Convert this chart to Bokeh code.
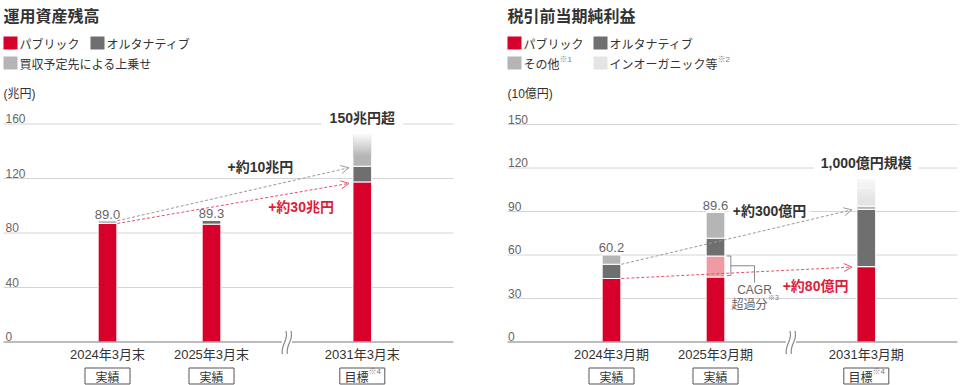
from bokeh.plotting import figure
from bokeh.layouts import row
from bokeh.models import Range1d, Arrow, OpenHead, ColumnDataSource
from bokeh.core.properties import value
from bokeh.embed import file_html
from bokeh.resources import INLINE

# ---------------- data ----------------
aum_title = "運用資産残高"
aum_unit = "(兆円)"
aum_periods = ["2024年3月末", "2025年3月末", "2031年3月末"]
aum_status = ["実績", "実績", "目標"]
aum_public = [87.0, 86.5, 117.5]
aum_alternative = [0.0, 2.8, 11.5]
aum_acquisition = [2.0, 0.0, 25.0]
aum_value_labels = ["89.0", "89.3"]
aum_target_label = "150兆円超"
aum_ticks = [0, 40, 80, 120, 160]
aum_delta_total = "+約10兆円"
aum_delta_public = "+約30兆円"
aum_legend = ["パブリック", "オルタナティブ", "買収予定先による上乗せ"]

pl_title = "税引前当期純利益"
pl_unit = "(10億円)"
pl_periods = ["2024年3月期", "2025年3月期", "2031年3月期"]
pl_status = ["実績", "実績", "目標"]
pl_public = [43.8, 44.8, 52.0]
pl_cagr_excess = [0.0, 14.5, 0.0]
pl_alternative = [9.8, 12.3, 39.5]
pl_other = [6.6, 18.0, 2.2]
pl_inorganic = [0.0, 0.0, 20.0]
pl_value_labels = ["60.2", "89.6"]
pl_target_label = "1,000億円規模"
pl_ticks = [0, 30, 60, 90, 120, 150]
pl_delta_total = "+約300億円"
pl_delta_public = "+約80億円"
pl_legend = ["パブリック", "オルタナティブ", "その他", "インオーガニック等"]
pl_cagr_text = ["CAGR", "超過分"]

# ---------------- styles / layout ----------------
RED = "#d7002b"
DARK = "#6f6f6f"
LIGHT = "#b5b5b5"
VLIGHT = "#e4e4e4"
PINK = "#f09ba4"
TXT = "#333333"
SUB = "#666666"
GRID = "#d4d4d4"
AXIS = "#7a7a7a"
RED_TXT = "#dc1e3c"
RED_ARW = "#e8506a"
GRAY_ARW = "#9a9a9a"
SUPC = "#7a7a7a"
CJK = "Noto Sans CJK JP"
MIX = "Liberation Sans, Noto Sans CJK JP"

FIG_W, FIG_H = 480, 385
TOP = 0
AXIS_Y = 341.5
SLOT = 104.0
BREAK = 0.45
BAR_W = 0.18
xpos = [0.0, 1.0, 2.0 + BREAK]


class Geo:
    def __init__(self, left, bar0, ppu):
        self.left, self.bar0, self.ppu = left, bar0, ppu

    def X(self, px):
        return (px - self.bar0) / SLOT

    def Y(self, py):
        return (AXIS_Y - py) / self.ppu

    def dx(self, n):
        return n / SLOT

    def dy(self, n):
        return n / self.ppu


def make_fig(g):
    p = figure(width=FIG_W, height=FIG_H,
               x_range=Range1d(g.X(g.left), g.X(g.left + FIG_W)),
               y_range=Range1d(g.Y(TOP + FIG_H), g.Y(TOP)),
               output_backend="svg", toolbar_location=None,
               x_axis_location=None, y_axis_location=None,
               min_border=0, title=None, outline_line_color=None,
               background_fill_color="white", border_fill_color="white")
    p.grid.visible = False
    return p


def txt(p, x, y, s, size, color=TXT, font=MIX, bold=False, align="left",
        baseline="middle", **kw):
    p.text(x=[x], y=[y], text=[s], text_font=value(font),
           text_font_size=f"{size}px", text_color=color, text_align=align,
           text_baseline=baseline,
           text_font_style="bold" if bold else "normal", **kw)


def mix_white(c, t):
    c = c.lstrip("#")
    r, gg, b = (int(c[i:i + 2], 16) for i in (0, 2, 4))
    f = lambda v: int(round(v + (255 - v) * t))
    return "#%02x%02x%02x" % (f(r), f(gg), f(b))


def fade(p, g, x, bottom, top, base, start_frac):
    n = 24
    s = bottom + (top - bottom) * start_frac
    step = (top - s) / n
    lefts, rights, bots, tops, cols = [], [], [], [], []
    for i in range(n):
        lefts.append(x - BAR_W / 2 + g.dx(0.5))
        rights.append(x + BAR_W / 2 - g.dx(0.5))
        bots.append(s + i * step)
        tops.append(s + (i + 1) * step + (0 if i == n - 1 else step * 0.05))
        cols.append(mix_white(base, (i + 1) / n))
    p.quad(left=lefts, right=rights, bottom=bots, top=tops, fill_color=cols,
           line_color=None)


def frame(p, g, ticks, grid_x0, grid_x1, label_x):
    gt = [t for t in ticks if t != 0]
    p.segment(x0=[g.X(grid_x0)] * len(gt), y0=gt, x1=[g.X(grid_x1)] * len(gt),
              y1=gt, line_color=GRID, line_width=1)
    for t in ticks:
        txt(p, g.X(label_x), t + g.dy(5.5), str(t), 12, SUB, baseline="alphabetic")


def axis_and_break(p, g, x0, x1):
    xm = (xpos[1] + xpos[2]) / 2
    p.segment(x0=[g.X(x0), xm + g.dx(5)], y0=[0, 0], x1=[xm - g.dx(5), g.X(x1)],
              y1=[0, 0], line_color=AXIS, line_width=1)
    for off in (-2.5, 2.5):
        xc = xm + g.dx(off)
        p.bezier(x0=[xc + g.dx(1.5)], y0=[g.dy(11)],
                 x1=[xc - g.dx(2)], y1=[-g.dy(12)],
                 cx0=[xc + g.dx(5)], cy0=[g.dy(3)],
                 cx1=[xc - g.dx(4)], cy1=[-g.dy(3)],
                 line_color="#8a8a8a", line_width=1.2)


def period_labels(p, g, periods, status):
    for x, per in zip(xpos, periods):
        txt(p, x, g.Y(354), per, 13, TXT, align="center")
    p.rect(x=xpos, y=[g.Y(375.5)] * 3, width=45, height=16, width_units="screen",
           height_units="screen", fill_color=None, line_color="#555555",
           line_width=1)
    for x, st in zip(xpos, status):
        if st == "目標":
            txt(p, x - g.dx(5.8), g.Y(375.5), st, 12, TXT, font=CJK, align="center")
            txt(p, x + g.dx(6.3), g.Y(371), "※4", 8, SUPC, font=MIX)
        else:
            txt(p, x, g.Y(375.5), st, 12, TXT, font=CJK, align="center")


def legend_item(p, g, sx, sy, color, label, sup=None):
    p.rect(x=[g.X(sx + 7)], y=[g.Y(sy)], width=14, height=13, width_units="screen",
           height_units="screen", fill_color=color, line_color=None)
    txt(p, g.X(sx + 16), g.Y(sy), label, 12, TXT, font=CJK)
    if sup:
        txt(p, g.X(sx + 16 + 12 * len(label)), g.Y(sy - 3.5), sup, 8, SUPC)


def arrow(p, x0, y0, x1, y1, color):
    p.add_layout(Arrow(end=OpenHead(size=8, line_color=color, line_width=1),
                       x_start=x0, y_start=y0, x_end=x1, y_end=y1,
                       line_color=color, line_width=1, line_dash="3 2"))


# ================= left chart =================
gl = Geo(0, 107, 54.5 / 40.0)
p1 = make_fig(gl)
txt(p1, gl.X(3), gl.Y(14.5), aum_title, 16, TXT, font=CJK, bold=True)
legend_item(p1, gl, 3, 42.5, RED, aum_legend[0])
legend_item(p1, gl, 90, 42.5, DARK, aum_legend[1])
legend_item(p1, gl, 3, 62.5, LIGHT, aum_legend[2])
txt(p1, gl.X(3), gl.Y(93), aum_unit, 12, TXT)
frame(p1, gl, aum_ticks, 3, 453, 5)

src1 = ColumnDataSource(dict(x=xpos, public=aum_public, alt=aum_alternative,
                             acq=aum_acquisition))
p1.vbar_stack(["public", "alt", "acq"], x="x", width=BAR_W, source=src1,
              fill_color=[RED, DARK, LIGHT], line_color="white", line_width=1)
b3 = aum_public[2] + aum_alternative[2]
fade(p1, gl, xpos[2], b3, b3 + aum_acquisition[2], LIGHT, 0.3)
axis_and_break(p1, gl, 3, 453)

for i, lab in enumerate(aum_value_labels):
    tot = aum_public[i] + aum_alternative[i] + aum_acquisition[i]
    txt(p1, xpos[i], tot + gl.dy(6.5), lab, 13, SUB, align="center",
        baseline="alphabetic")
txt(p1, xpos[2], 160 + gl.dy(6), aum_target_label, 14, TXT, bold=True,
    align="center", background_fill_color="white", padding=8)

ax0 = xpos[0] + BAR_W / 2 + gl.dx(0.5)
ax1 = xpos[2] - BAR_W / 2 - gl.dx(4)
arrow(p1, ax0, aum_public[0] + aum_alternative[0] + aum_acquisition[0],
      ax1, aum_public[2] + aum_alternative[2] - gl.dy(1.5), GRAY_ARW)
arrow(p1, ax0, aum_public[0], ax1, aum_public[2] - gl.dy(1.5), RED_ARW)
txt(p1, 1.471, 128.8, aum_delta_total, 14, TXT, bold=True, align="center")
txt(p1, 1.861, 99.3, aum_delta_public, 14, RED_TXT, bold=True, align="center")
period_labels(p1, gl, aum_periods, aum_status)

# ================= right chart =================
gr = Geo(480, 611, 43.5 / 30.0)
p2 = make_fig(gr)
txt(p2, gr.X(507), gr.Y(14.5), pl_title, 16, TXT, font=CJK, bold=True)
legend_item(p2, gr, 507, 42.5, RED, pl_legend[0])
legend_item(p2, gr, 593, 42.5, DARK, pl_legend[1])
legend_item(p2, gr, 507, 62.5, LIGHT, pl_legend[2], "※1")
legend_item(p2, gr, 593, 62.5, VLIGHT, pl_legend[3], "※2")
txt(p2, gr.X(507), gr.Y(93), pl_unit, 12, TXT)
frame(p2, gr, pl_ticks, 507, 957, 507.5)

src2 = ColumnDataSource(dict(x=xpos, public=pl_public, cagr=pl_cagr_excess,
                             alt=pl_alternative, other=pl_other,
                             inorg=pl_inorganic))
p2.vbar_stack(["public", "cagr", "alt", "other", "inorg"], x="x", width=BAR_W,
              source=src2, fill_color=[RED, PINK, DARK, LIGHT, VLIGHT],
              line_color="white", line_width=1)
b3r = pl_public[2] + pl_cagr_excess[2] + pl_alternative[2] + pl_other[2]
fade(p2, gr, xpos[2], b3r, b3r + pl_inorganic[2], VLIGHT, 0.25)
axis_and_break(p2, gr, 507, 957)

for i, lab in enumerate(pl_value_labels):
    tot = pl_public[i] + pl_cagr_excess[i] + pl_alternative[i] + pl_other[i]
    txt(p2, xpos[i], tot + gr.dy(7), lab, 13, SUB, align="center",
        baseline="alphabetic")
txt(p2, xpos[2], 120 + gr.dy(4.8), pl_target_label, 14, TXT, bold=True,
    align="center", background_fill_color="white", padding=7)

bx0 = xpos[0] + BAR_W / 2 + gr.dx(0.5)
bx1 = xpos[2] - BAR_W / 2 - gr.dx(5)
arrow(p2, bx0, pl_public[0] + pl_alternative[0], bx1,
      pl_public[2] + pl_alternative[2] - gr.dy(0.5), GRAY_ARW)
arrow(p2, bx0, pl_public[0], bx1, pl_public[2] - gr.dy(0.5), RED_ARW)
txt(p2, 1.519, 90.2, pl_delta_total, 14, TXT, bold=True, align="center",
    background_fill_color="white", padding=4)
txt(p2, 1.962, 38.5, pl_delta_public, 14, RED_TXT, bold=True, align="center")

# CAGR bracket
edge = xpos[1] + BAR_W / 2
xa, xb = edge + gr.dx(2), edge + gr.dx(6)
xcg = 1.375
ybot = pl_public[1] + gr.dy(1.5)
ytop = pl_public[1] + pl_cagr_excess[1]
ymid = (ybot + ytop) / 2
cagr_y = 36.2
p2.multi_line(xs=[[xa, xb, xb, xa], [xb, xcg, xcg]],
              ys=[[ytop, ytop, ybot, ybot], [ymid, ymid, cagr_y + gr.dy(7)]],
              line_color="#888888", line_width=1)
txt(p2, xcg, cagr_y, pl_cagr_text[0], 12, SUB, align="center")
txt(p2, gr.X(767), 26.5, pl_cagr_text[1], 12, SUB, font=CJK, align="right")
txt(p2, gr.X(767.5), 30.5, "※3", 7, SUPC)
period_labels(p2, gr, pl_periods, pl_status)

layout = row(p1, p2)
open("out.html", "w").write(file_html(layout, INLINE))
